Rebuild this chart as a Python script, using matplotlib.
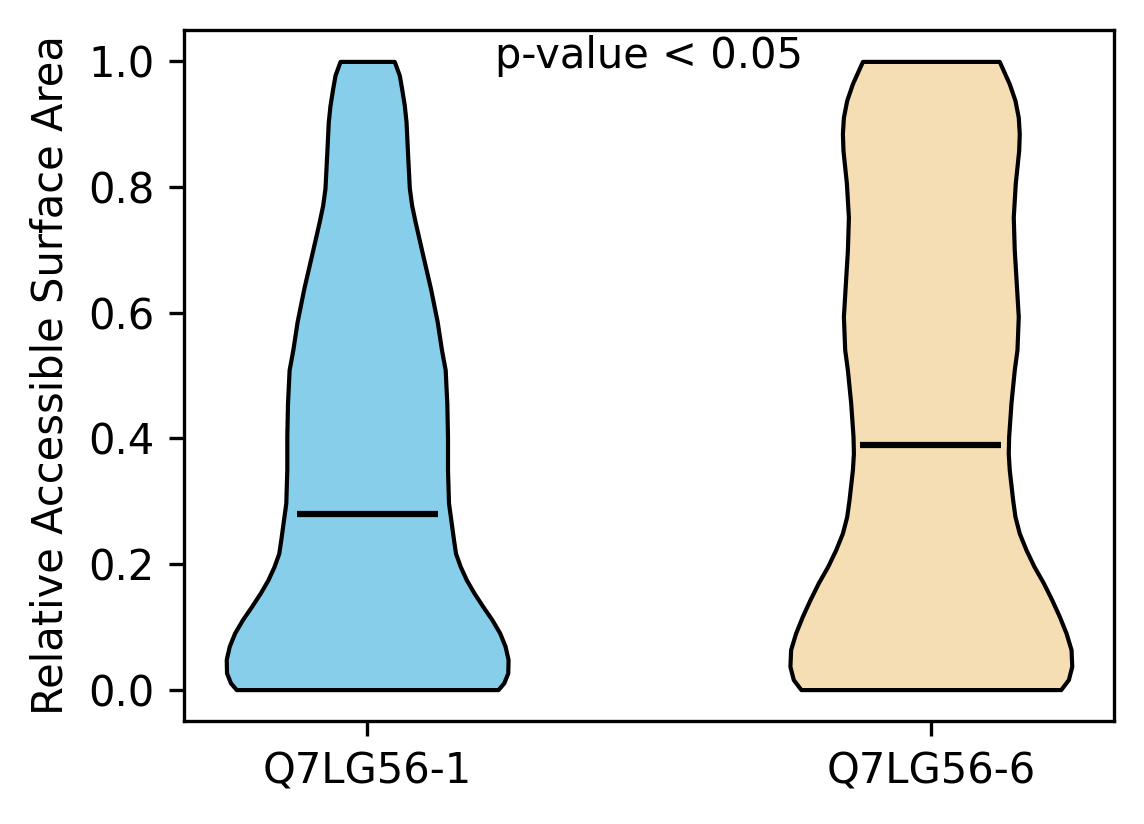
import matplotlib
matplotlib.use("Agg")
import matplotlib.pyplot as plt
import numpy as np

# two groups and the p-value annotation
labels = ["Q7LG56-1", "Q7LG56-6"]
colors = ["skyblue", "wheat"]
medians = [0.28, 0.39]
p_text = "p-value < 0.05"

# density profiles (relative half-widths; y in RSA units)
q1_y = [0.0, 0.0106, 0.0265, 0.048, 0.069, 0.090, 0.111, 0.132, 0.154, 0.175,
        0.196, 0.217, 0.2385, 0.297, 0.350, 0.403, 0.456, 0.509, 0.541, 0.586,
        0.639, 0.692, 0.745, 0.771, 0.798, 0.851, 0.904, 0.930, 0.957, 0.978, 1.0]
q1_d = [130.3, 136, 140, 140.3, 137.3, 132, 124.3, 115.3, 106.3, 98.7,
        92.7, 88, 86, 81, 80, 80, 79.3, 77.7, 74, 69.7,
        63, 55.3, 47.7, 44.3, 42, 40.3, 38.7, 37, 34.3, 32, 27]

q6_y = [0.0, 0.0159, 0.037, 0.0636, 0.090, 0.1165, 0.143, 0.170, 0.196, 0.2226,
        0.249, 0.2755, 0.302, 0.350, 0.376, 0.403, 0.456, 0.509, 0.541, 0.594,
        0.647, 0.700, 0.752, 0.806, 0.858, 0.885, 0.911, 0.938, 0.9645, 1.0]
q6_d = [129.7, 137.3, 140.7, 140, 135, 128.3, 120.7, 112.3, 103, 95,
        88.3, 84, 81.7, 78.3, 77.3, 77.7, 80, 83.3, 86, 87.3,
        85.3, 83.3, 82.3, 84.3, 87.7, 88.3, 87.3, 84, 78.3, 68.3]


def stats(y, d, med):
    y = np.asarray(y, dtype=float)
    return {"coords": y, "vals": np.asarray(d, dtype=float), "mean": med,
            "median": med, "min": y.min(), "max": y.max()}


fig = plt.figure(figsize=(1144 / 300, 824 / 300), dpi=300)
ax = fig.add_axes([0.1608, 0.125, 0.813, 0.8386])

vp = ax.violin([stats(q1_y, q1_d, medians[0]), stats(q6_y, q6_d, medians[1])],
               positions=[1, 2], widths=0.5, showmeans=False,
               showextrema=False, showmedians=True)
for body, c in zip(vp["bodies"], colors):
    body.set_facecolor(c)
    body.set_edgecolor("black")
    body.set_linewidth(1.0)
    body.set_alpha(1)
vp["cmedians"].set_color("black")
vp["cmedians"].set_linewidth(1.5)

ax.set_xticks([1, 2])
ax.set_xticklabels(labels)
ax.set_ylabel("Relative Accessible Surface Area")
ax.text(1.5, 1.008, p_text, ha="center", va="center")

fig.savefig("out.png", dpi=300)
